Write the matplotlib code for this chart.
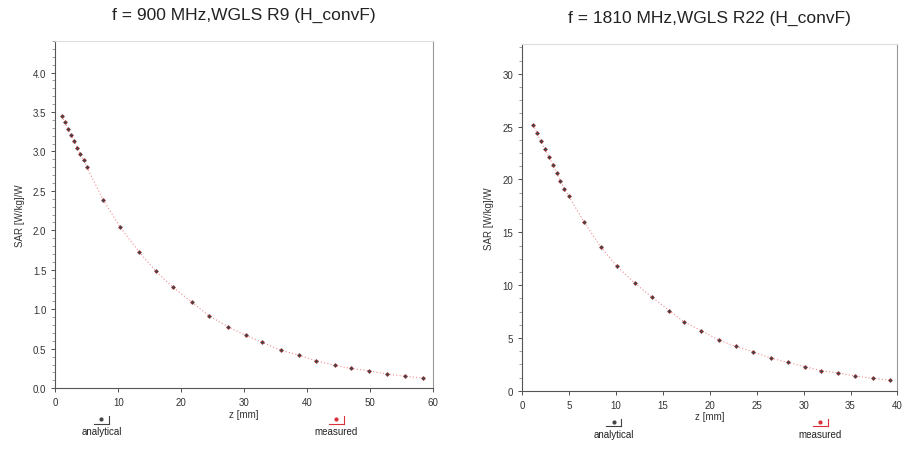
import numpy as np
import matplotlib
matplotlib.use("Agg")
import matplotlib.pyplot as plt
from matplotlib.ticker import MultipleLocator

plt.rcParams['font.family'] = ['Liberation Sans', 'DejaVu Sans']

# 900 MHz, WGLS R9 : z [mm] vs SAR [W/kg]/W
z900 = [1.0, 1.5, 2.0, 2.5, 3.0, 3.5, 4.0, 4.5, 5.0,
        7.6, 10.3, 13.3, 16.0, 18.7, 21.7, 24.4, 27.4, 30.3, 32.9,
        35.9, 38.7, 41.4, 44.4, 47.0, 49.9, 52.7, 55.6, 58.4]
sar900 = [3.45, 3.37, 3.29, 3.21, 3.13, 3.05, 2.97, 2.89, 2.80,
          2.39, 2.04, 1.73, 1.48, 1.28, 1.09, 0.92, 0.78, 0.67, 0.58,
          0.48, 0.42, 0.35, 0.29, 0.25, 0.22, 0.18, 0.15, 0.13]

# 1810 MHz, WGLS R22
z1810 = [1.2, 1.6, 2.0, 2.4, 2.9, 3.3, 3.7, 4.1, 4.5, 5.0,
         6.6, 8.4, 10.1, 12.0, 13.8, 15.7, 17.3, 19.1, 21.0, 22.8,
         24.6, 26.5, 28.3, 30.1, 31.9, 33.7, 35.5, 37.4, 39.2]
sar1810 = [25.2, 24.4, 23.6, 22.9, 22.1, 21.4, 20.6, 19.9, 19.1, 18.4,
           16.0, 13.6, 11.8, 10.2, 8.9, 7.6, 6.5, 5.7, 4.8, 4.2,
           3.7, 3.1, 2.7, 2.3, 1.9, 1.7, 1.4, 1.2, 1.0]

legend_labels = ["analytical", "measured"]

panels = [
    dict(title="f = 900 MHz,WGLS R9 (H_convF)", z=z900, sar=sar900,
         rect=[0.061, 0.139, 0.416, 0.768], xlim=(0, 60), ylim=(0, 4.4),
         xmaj=10, ymaj=0.5, ymin=0.1, yfmt="%.1f", legx=(0.127, 0.75)),
    dict(title="f = 1810 MHz,WGLS R22 (H_convF)", z=z1810, sar=sar1810,
         rect=[0.5755, 0.133, 0.414, 0.767], xlim=(0, 40), ylim=(0, 32.8),
         xmaj=5, ymaj=5, ymin=1.25, yfmt="%d", legx=(0.25, 0.80)),
]

fig = plt.figure(figsize=(9.07, 4.52), dpi=100)
grey = "#777777"
red = "#d9303a"
dark = "#444444"

for p in panels:
    ax = fig.add_axes(p["rect"])
    ax.plot(p["z"], p["sar"], linestyle=(0, (1, 2)), color="#f08a90", linewidth=0.8,
            marker="o", markersize=1.6, markerfacecolor=red, markeredgecolor=red)
    ax.plot(p["z"], p["sar"], linestyle="none", marker="+", markersize=3.5,
            markeredgewidth=0.9, color=dark)
    ax.set_xlim(p["xlim"])
    ax.set_ylim(p["ylim"])
    ax.xaxis.set_major_locator(MultipleLocator(p["xmaj"]))
    ax.yaxis.set_major_locator(MultipleLocator(p["ymaj"]))
    ax.yaxis.set_minor_locator(MultipleLocator(p["ymin"]))
    ax.yaxis.set_major_formatter(plt.FormatStrFormatter(p["yfmt"]))
    ax.tick_params(labelsize=7, colors="#333333", length=3, width=0.6)
    ax.tick_params(which="minor", length=2, width=0.5, color=grey)
    for s in ["left", "bottom"]:
        ax.spines[s].set_color("#555555")
        ax.spines[s].set_linewidth(0.8)
    ax.spines["top"].set_color("#dddddd")
    ax.spines["right"].set_color("#999999")
    ax.set_title(p["title"], fontsize=12.5, pad=16, color="#222222")
    ax.set_xlabel("z [mm]", fontsize=7, labelpad=1, color="#333333")
    ax.set_ylabel("SAR [W/kg]/W", fontsize=7, labelpad=6, color="#333333")

    # legend glyphs below the axes
    for xc, col, lab in zip(p["legx"], [dark, red], legend_labels):
        ax.plot([xc - 0.025, xc + 0.015], [-0.102, -0.102], color=col, lw=0.8,
                transform=ax.transAxes, clip_on=False)
        ax.plot([xc + 0.015, xc + 0.015], [-0.102, -0.08], color=col, lw=0.8,
                transform=ax.transAxes, clip_on=False)
        ax.plot([xc - 0.005], [-0.09], marker="o", markersize=2, color=col,
                transform=ax.transAxes, clip_on=False)
        ax.text(xc - 0.005, -0.11, lab, fontsize=7, ha="center", va="top",
                color="#222222", transform=ax.transAxes)

fig.savefig("out.png", dpi=100)
